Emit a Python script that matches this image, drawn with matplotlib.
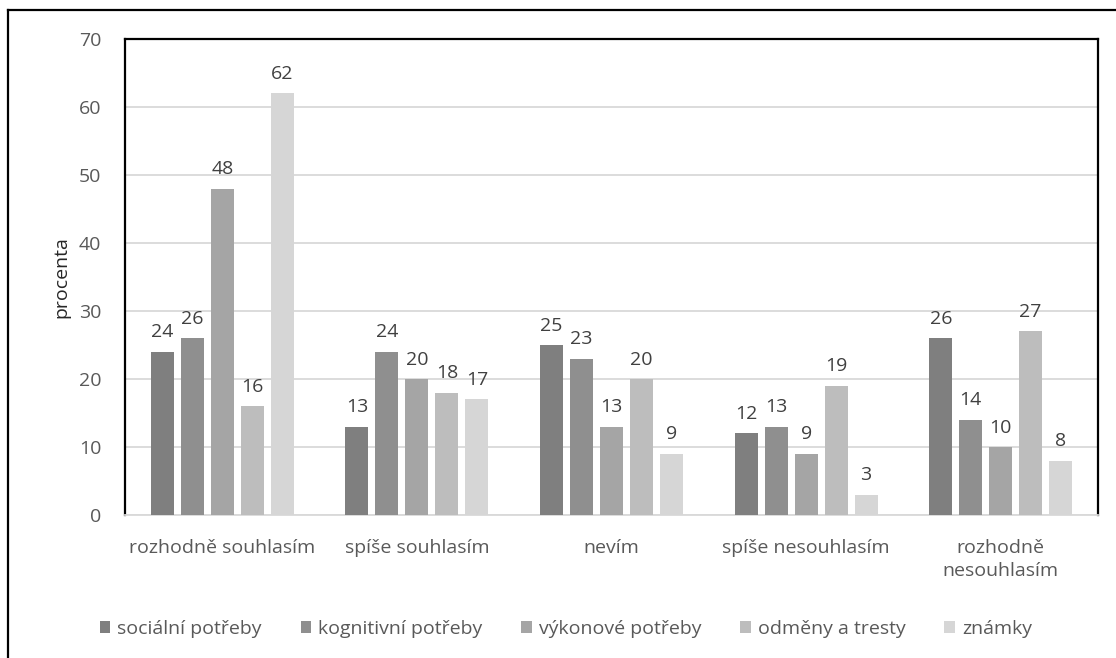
import numpy as np
import matplotlib
matplotlib.use("Agg")
import matplotlib.pyplot as plt
from matplotlib.lines import Line2D

# ========================= data ==============================================

categories = ["rozhodně souhlasím", "spíše souhlasím", "nevím",
              "spíše nesouhlasím", "rozhodně\nnesouhlasím"]
series_names = ["sociální potřeby", "kognitivní potřeby", "výkonové potřeby",
                "odměny a tresty", "známky"]
socialni = [24, 13, 25, 12, 26]
kognitivni = [26, 24, 23, 13, 14]
vykonove = [48, 20, 13, 9, 10]
odmeny = [16, 18, 20, 19, 27]
znamky = [62, 17, 9, 3, 8]
yticks = [0, 10, 20, 30, 40, 50, 60, 70]

colors = ["#7f7f7f", "#8f8f8f", "#a5a5a5", "#bdbdbd", "#d6d6d6"]
text_color = "#595959"
fs = 14

# ========================= plot ==============================================

plt.rcParams["font.family"] = ["Open Sans", "DejaVu Sans"]

fig = plt.figure(figsize=(11.16, 6.58), dpi=100)
ax = fig.add_axes([125 / 1116, 1 - 515 / 658, 973 / 1116, 476 / 658])

x = np.arange(len(categories))
width = 0.118
pitch = 0.154
all_series = [socialni, kognitivni, vykonove, odmeny, znamky]

for i, (name, vals) in enumerate(zip(series_names, all_series)):
    pos = x + (i - 2) * pitch
    bars = ax.bar(pos, vals, width, color=colors[i], label=name, zorder=3)
    for b, v in zip(bars, vals):
        ax.annotate(str(v), (b.get_x() + b.get_width() / 2, v),
                    xytext=(0, 7.5), textcoords="offset points",
                    ha="center", va="bottom", fontsize=fs, color="#404040")

# configure axes

ax.set_xlim(-0.5, len(categories) - 0.5)
ax.set_ylim(0, 70)
ax.set_yticks(yticks)
ax.set_xticks(x)
ax.set_xticklabels(categories, fontsize=fs, color=text_color,
                   linespacing=1.4)
ax.tick_params(axis="y", labelsize=fs, labelcolor=text_color, length=0, pad=17)
ax.tick_params(axis="x", length=0, pad=17)
ax.set_ylabel("procenta", fontsize=fs, color="#262626", labelpad=6)
ax.grid(True, axis="y", color="#d9d9d9", linewidth=1.3, zorder=0)

for side in ["left", "top", "right"]:
    ax.spines[side].set_color("black")
    ax.spines[side].set_linewidth(1.6)
ax.spines["bottom"].set_color("#d9d9d9")
ax.spines["bottom"].set_linewidth(1.3)

# legend under the chart

fig.legend(loc="center", bbox_to_anchor=(0.507, 1 - 629 / 658), ncol=5,
           frameon=False, fontsize=fs, labelcolor=text_color,
           handlelength=0.55, handleheight=0.55, handletextpad=0.35,
           columnspacing=2.0)

# outer frame of the picture

fig.add_artist(Line2D([8 / 1116, 1.0], [1 - 10 / 658, 1 - 10 / 658],
                      transform=fig.transFigure, color="black", linewidth=1.6))
fig.add_artist(Line2D([8 / 1116, 8 / 1116], [0.0, 1 - 10 / 658],
                      transform=fig.transFigure, color="black", linewidth=1.6))

fig.savefig("out.png", dpi=100)
